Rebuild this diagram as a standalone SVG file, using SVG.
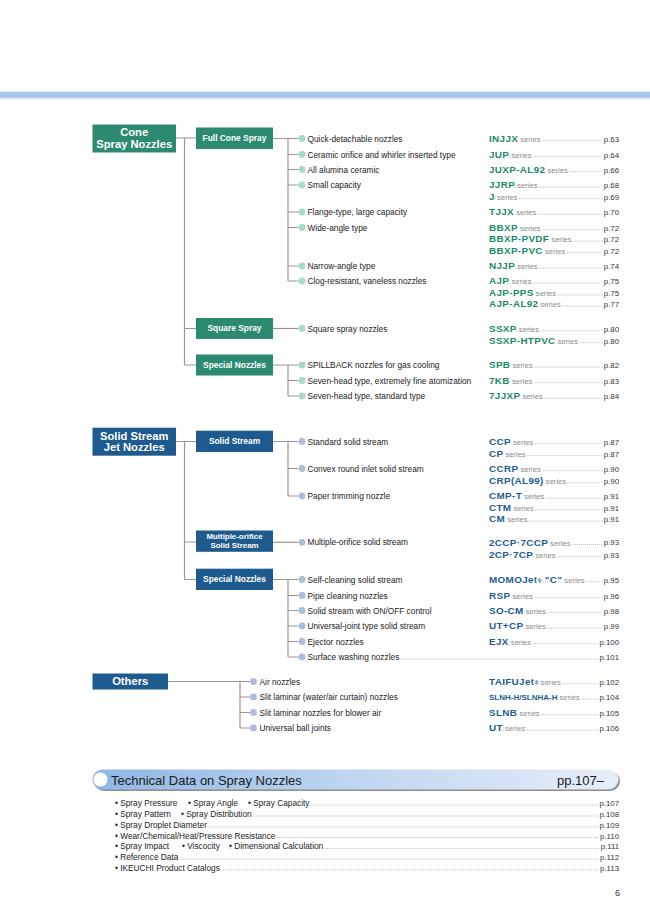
<svg xmlns="http://www.w3.org/2000/svg" width="650" height="919" viewBox="0 0 650 919">
<style>
text{font-family:"Liberation Sans",Arial,Helvetica,sans-serif}
.t{font-size:8.3px;fill:#222}
.bx{font-weight:bold;fill:#fff;text-anchor:middle}
.gb{fill:#2b8a70}
.bb{fill:#1d5a8e}
.cg{font-weight:bold;font-size:9.9px;fill:#1b8a6b;letter-spacing:0.35px}
.cb{font-weight:bold;font-size:9.9px;fill:#1d5c94;letter-spacing:0.35px}
.cb.sm{font-size:8px;letter-spacing:0}
.cb.reg{font-size:5.5px;letter-spacing:0}
.s{font-size:7.6px;fill:#8a8a8a;font-weight:normal;letter-spacing:0}
.pg{font-size:7.8px;fill:#333;text-anchor:end}
.w{stroke:#fff;stroke-width:3px;paint-order:stroke fill;stroke-linejoin:round}
.ld{stroke:#9a9a9a;stroke-width:0.8;stroke-dasharray:0.8 1.2;fill:none}
.cn{stroke:#a0958c;stroke-width:1.2;fill:none}
.dg{fill:#a6dac8}
.db{fill:#aabfd6}
</style>
<defs>
<linearGradient id="barg" x1="0" y1="0" x2="1" y2="0">
<stop offset="0" stop-color="#8fb6e4"/>
<stop offset="0.45" stop-color="#bcd3ef"/>
<stop offset="1" stop-color="#e6eef9"/>
</linearGradient>
</defs>
<rect x="0" y="0" width="650" height="919" fill="#fff"/>
<g id="top-band">
<rect x="0" y="91.5" width="650" height="7" fill="#b6d1f0"/>
<rect x="0" y="93.2" width="650" height="3.6" fill="#a5c4ea"/>
<rect x="0" y="99.5" width="650" height="1" fill="#eaf1f9"/>
</g>
<g id="leaders">
<path class="ld" d="M489 140.7H619M489 156.7H619M489 171.7H619M489 187.2H619M489 198.7H619M489 214.2H619M489 229.7H619M489 241.2H619M489 252.7H619M489 268.2H619M489 283.2H619M489 294.9H619M489 306.2H619M489 330.7H619M489 342.7H619M489 367.2H619M489 382.7H619M489 398.2H619"/>
<path class="ld" d="M489 443.7H619M489 455.7H619M489 470.7H619M489 482.7H619M489 498.2H619M489 509.7H619M489 521.2H619M489 544.5H619M489 556.7H619M489 581.7H619M489 597.7H619M489 612.7H619M489 628.2H619M489 643.7H619M309 659.2H619"/>
<path class="ld" d="M489 683.7H619M489 699.2H619M489 714.7H619M489 730.2H619"/>
<path class="ld" d="M248 805.2H619M181 816H619M115 826.8H619M115 837.6H619M229 848.4H619M115 859.2H619M115 870H619"/>
</g>
<g id="connectors">
<path class="cn" d="M176 138H196M184.5 138V365M184.5 328.5H196M184.5 365H196"/>
<path class="cn" d="M273 138.5H288V281M288 138.5H298.5M288 154.5H298.5M288 169.5H298.5M288 185H298.5M288 212H298.5M288 227.5H298.5M288 266H298.5M288 281H298.5"/>
<path class="cn" d="M273 328.5H298.5"/>
<path class="cn" d="M273 365H288V396M288 365H298.5M288 380.5H298.5M288 396H298.5"/>
<path class="cn" d="M176 441.5H196M184.5 441.5V579.5M184.5 542H196M184.5 579.5H196"/>
<path class="cn" d="M273 441.5H288V496M288 441.5H298.5M288 468.5H298.5M288 496H298.5"/>
<path class="cn" d="M273 542.3H298.5"/>
<path class="cn" d="M273 579.5H288V657M288 579.5H298.5M288 595.5H298.5M288 610.5H298.5M288 626H298.5M288 641.5H298.5M288 657H298.5"/>
<path class="cn" d="M168 681.5H250M240 681.5V728M240 697H250M240 712.5H250M240 728H250"/>
</g>
<g id="node-cone">
<rect class="gb" x="92.5" y="124.5" width="83.5" height="28"/>
<text class="bx" x="134.2" y="136.3" font-size="11.2px">Cone</text>
<text class="bx" x="134.2" y="147.6" font-size="11.2px">Spray Nozzles</text>
</g>
<g id="node-fullcone">
<rect class="gb" x="196" y="127.5" width="77" height="21.5"/>
<text class="bx" x="234.5" y="141" font-size="8.4px">Full Cone Spray</text>
</g>
<g id="node-square">
<rect class="gb" x="196" y="318" width="77" height="21"/>
<text class="bx" x="234.5" y="331.4" font-size="8.4px">Square Spray</text>
</g>
<g id="node-special1">
<rect class="gb" x="196" y="354.5" width="77" height="21"/>
<text class="bx" x="234.5" y="367.9" font-size="8.4px">Special Nozzles</text>
</g>
<g id="node-solidjet">
<rect class="bb" x="92.5" y="427.7" width="83.5" height="28"/>
<text class="bx" x="134.2" y="440" font-size="11.2px">Solid Stream</text>
<text class="bx" x="134.2" y="451.2" font-size="11.2px">Jet Nozzles</text>
</g>
<g id="node-solid">
<rect class="bb" x="196" y="430.7" width="77" height="21.3"/>
<text class="bx" x="234.5" y="444.3" font-size="8.4px">Solid Stream</text>
</g>
<g id="node-multi">
<rect class="bb" x="196" y="530.5" width="77" height="21.3"/>
<text class="bx" x="234.5" y="539.3" font-size="7.9px">Multiple-orifice</text>
<text class="bx" x="234.5" y="547.6" font-size="7.9px">Solid Stream</text>
</g>
<g id="node-special2">
<rect class="bb" x="196" y="568.7" width="77" height="21.3"/>
<text class="bx" x="234.5" y="582.4" font-size="8.4px">Special Nozzles</text>
</g>
<g id="node-others">
<rect class="bb" x="92.5" y="673.5" width="75.5" height="16"/>
<text class="bx" x="130.2" y="685.4" font-size="11.2px">Others</text>
</g>
<g id="cone-items">
<g id="i-quick"><circle class="dg" cx="302" cy="138.5" r="3.4"/><text class="t" x="307.5" y="141.5">Quick-detachable nozzles</text>
<text class="t w" x="489" y="141.8"><tspan class="cg">INJJX</tspan><tspan class="s"> series</tspan></text><text class="pg w" x="619" y="141.5">p.63</text></g>
<g id="i-ceramic"><circle class="dg" cx="302" cy="154.5" r="3.4"/><text class="t" x="307.5" y="157.5">Ceramic orifice and whirler inserted type</text>
<text class="t w" x="489" y="157.8"><tspan class="cg">JUP</tspan><tspan class="s"> series</tspan></text><text class="pg w" x="619" y="157.5">p.64</text></g>
<g id="i-alumina"><circle class="dg" cx="302" cy="169.5" r="3.4"/><text class="t" x="307.5" y="172.5">All alumina ceramic</text>
<text class="t w" x="489" y="172.8"><tspan class="cg">JUXP-AL92</tspan><tspan class="s"> series</tspan></text><text class="pg w" x="619" y="172.5">p.66</text></g>
<g id="i-small"><circle class="dg" cx="302" cy="185" r="3.4"/><text class="t" x="307.5" y="188">Small capacity</text>
<text class="t w" x="489" y="188.3"><tspan class="cg">JJRP</tspan><tspan class="s"> series</tspan></text><text class="pg w" x="619" y="188">p.68</text>
<text class="t w" x="489" y="199.8"><tspan class="cg">J</tspan><tspan class="s"> series</tspan></text><text class="pg w" x="619" y="199.5">p.69</text></g>
<g id="i-flange"><circle class="dg" cx="302" cy="212" r="3.4"/><text class="t" x="307.5" y="215">Flange-type, large capacity</text>
<text class="t w" x="489" y="215.3"><tspan class="cg">TJJX</tspan><tspan class="s"> series</tspan></text><text class="pg w" x="619" y="215">p.70</text></g>
<g id="i-wide"><circle class="dg" cx="302" cy="227.5" r="3.4"/><text class="t" x="307.5" y="230.5">Wide-angle type</text>
<text class="t w" x="489" y="230.8"><tspan class="cg">BBXP</tspan><tspan class="s"> series</tspan></text><text class="pg w" x="619" y="230.5">p.72</text>
<text class="t w" x="489" y="242.3"><tspan class="cg">BBXP-PVDF</tspan><tspan class="s"> series</tspan></text><text class="pg w" x="619" y="242">p.72</text>
<text class="t w" x="489" y="253.8"><tspan class="cg">BBXP-PVC</tspan><tspan class="s"> series</tspan></text><text class="pg w" x="619" y="253.5">p.72</text></g>
<g id="i-narrow"><circle class="dg" cx="302" cy="266" r="3.4"/><text class="t" x="307.5" y="269">Narrow-angle type</text>
<text class="t w" x="489" y="269.3"><tspan class="cg">NJJP</tspan><tspan class="s"> series</tspan></text><text class="pg w" x="619" y="269">p.74</text></g>
<g id="i-clog"><circle class="dg" cx="302" cy="281" r="3.4"/><text class="t" x="307.5" y="284">Clog-resistant, vaneless nozzles</text>
<text class="t w" x="489" y="284.3"><tspan class="cg">AJP</tspan><tspan class="s"> series</tspan></text><text class="pg w" x="619" y="284">p.75</text>
<text class="t w" x="489" y="296"><tspan class="cg">AJP-PPS</tspan><tspan class="s"> series</tspan></text><text class="pg w" x="619" y="295.7">p.75</text>
<text class="t w" x="489" y="307.3"><tspan class="cg">AJP-AL92</tspan><tspan class="s"> series</tspan></text><text class="pg w" x="619" y="307">p.77</text></g>
<g id="i-square"><circle class="dg" cx="302" cy="328.5" r="3.4"/><text class="t" x="307.5" y="331.5">Square spray nozzles</text>
<text class="t w" x="489" y="331.8"><tspan class="cg">SSXP</tspan><tspan class="s"> series</tspan></text><text class="pg w" x="619" y="331.5">p.80</text>
<text class="t w" x="489" y="343.8"><tspan class="cg">SSXP-HTPVC</tspan><tspan class="s"> series</tspan></text><text class="pg w" x="619" y="343.5">p.80</text></g>
<g id="i-spillback"><circle class="dg" cx="302" cy="365" r="3.4"/><text class="t" x="307.5" y="368">SPILLBACK nozzles for gas cooling</text>
<text class="t w" x="489" y="368.3"><tspan class="cg">SPB</tspan><tspan class="s"> series</tspan></text><text class="pg w" x="619" y="368">p.82</text></g>
<g id="i-sevenfine"><circle class="dg" cx="302" cy="380.5" r="3.4"/><text class="t" x="307.5" y="383.5">Seven-head type, extremely fine atomization</text>
<text class="t w" x="489" y="383.8"><tspan class="cg">7KB</tspan><tspan class="s"> series</tspan></text><text class="pg w" x="619" y="383.5">p.83</text></g>
<g id="i-sevenstd"><circle class="dg" cx="302" cy="396" r="3.4"/><text class="t" x="307.5" y="399">Seven-head type, standard type</text>
<text class="t w" x="489" y="399.3"><tspan class="cg">7JJXP</tspan><tspan class="s"> series</tspan></text><text class="pg w" x="619" y="399">p.84</text></g>
</g>
<g id="solid-items">
<g id="i-standard"><circle class="db" cx="302" cy="441.5" r="3.4"/><text class="t" x="307.5" y="444.5">Standard solid stream</text>
<text class="t w" x="489" y="444.8"><tspan class="cb">CCP</tspan><tspan class="s"> series</tspan></text><text class="pg w" x="619" y="444.5">p.87</text>
<text class="t w" x="489" y="456.8"><tspan class="cb">CP</tspan><tspan class="s"> series</tspan></text><text class="pg w" x="619" y="456.5">p.87</text></g>
<g id="i-convex"><circle class="db" cx="302" cy="468.5" r="3.4"/><text class="t" x="307.5" y="471.5">Convex round inlet solid stream</text>
<text class="t w" x="489" y="471.8"><tspan class="cb">CCRP</tspan><tspan class="s"> series</tspan></text><text class="pg w" x="619" y="471.5">p.90</text>
<text class="t w" x="489" y="483.8"><tspan class="cb">CRP(AL99)</tspan><tspan class="s"> series</tspan></text><text class="pg w" x="619" y="483.5">p.90</text></g>
<g id="i-paper"><circle class="db" cx="302" cy="496" r="3.4"/><text class="t" x="307.5" y="499">Paper trimming nozzle</text>
<text class="t w" x="489" y="499.3"><tspan class="cb">CMP-T</tspan><tspan class="s"> series</tspan></text><text class="pg w" x="619" y="499">p.91</text>
<text class="t w" x="489" y="510.8"><tspan class="cb">CTM</tspan><tspan class="s"> series</tspan></text><text class="pg w" x="619" y="510.5">p.91</text>
<text class="t w" x="489" y="522.3"><tspan class="cb">CM</tspan><tspan class="s"> series</tspan></text><text class="pg w" x="619" y="522">p.91</text></g>
<g id="i-multi"><circle class="db" cx="302" cy="542.3" r="3.4"/><text class="t" x="307.5" y="545.3">Multiple-orifice solid stream</text>
<text class="t w" x="489" y="545.6"><tspan class="cb">2CCP·7CCP</tspan><tspan class="s"> series</tspan></text><text class="pg w" x="619" y="545.3">p.93</text>
<text class="t w" x="489" y="557.8"><tspan class="cb">2CP·7CP</tspan><tspan class="s"> series</tspan></text><text class="pg w" x="619" y="557.5">p.93</text></g>
<g id="i-selfclean"><circle class="db" cx="302" cy="579.5" r="3.4"/><text class="t" x="307.5" y="582.5">Self-cleaning solid stream</text>
<text class="t w" x="489" y="582.8"><tspan class="cb">MOMOJet</tspan><tspan class="cb reg">®</tspan><tspan class="cb"> "C"</tspan><tspan class="s"> series</tspan></text><text class="pg w" x="619" y="582.5">p.95</text></g>
<g id="i-pipe"><circle class="db" cx="302" cy="595.5" r="3.4"/><text class="t" x="307.5" y="598.5">Pipe cleaning nozzles</text>
<text class="t w" x="489" y="598.8"><tspan class="cb">RSP</tspan><tspan class="s"> series</tspan></text><text class="pg w" x="619" y="598.5">p.96</text></g>
<g id="i-onoff"><circle class="db" cx="302" cy="610.5" r="3.4"/><text class="t" x="307.5" y="613.5">Solid stream with ON/OFF control</text>
<text class="t w" x="489" y="613.8"><tspan class="cb">SO-CM</tspan><tspan class="s"> series</tspan></text><text class="pg w" x="619" y="613.5">p.98</text></g>
<g id="i-universal"><circle class="db" cx="302" cy="626" r="3.4"/><text class="t" x="307.5" y="629">Universal-joint type solid stream</text>
<text class="t w" x="489" y="629.3"><tspan class="cb">UT+CP</tspan><tspan class="s"> series</tspan></text><text class="pg w" x="619" y="629">p.99</text></g>
<g id="i-ejector"><circle class="db" cx="302" cy="641.5" r="3.4"/><text class="t" x="307.5" y="644.5">Ejector nozzles</text>
<text class="t w" x="489" y="644.8"><tspan class="cb">EJX</tspan><tspan class="s"> series</tspan></text><text class="pg w" x="619" y="644.5">p.100</text></g>
<g id="i-surface"><circle class="db" cx="302" cy="657" r="3.4"/><text class="t w" x="307.5" y="660">Surface washing nozzles</text><text class="pg w" x="619" y="660">p.101</text></g>
</g>
<g id="others-items">
<g id="i-air"><circle class="db" cx="253.5" cy="681.5" r="3.4"/><text class="t" x="259.5" y="684.5">Air nozzles</text>
<text class="t w" x="489" y="684.8"><tspan class="cb">TAIFUJet</tspan><tspan class="cb reg">®</tspan><tspan class="s"> series</tspan></text><text class="pg w" x="619" y="684.5">p.102</text></g>
<g id="i-slit"><circle class="db" cx="253.5" cy="697" r="3.4"/><text class="t" x="259.5" y="700">Slit laminar (water/air curtain) nozzles</text>
<text class="t w" x="489" y="700.1"><tspan class="cb sm">SLNH-H/SLNHA-H</tspan><tspan class="s"> series</tspan></text><text class="pg w" x="619" y="700">p.104</text></g>
<g id="i-blower"><circle class="db" cx="253.5" cy="712.5" r="3.4"/><text class="t" x="259.5" y="715.5">Slit laminar nozzles for blower air</text>
<text class="t w" x="489" y="715.8"><tspan class="cb">SLNB</tspan><tspan class="s"> series</tspan></text><text class="pg w" x="619" y="715.5">p.105</text></g>
<g id="i-ball"><circle class="db" cx="253.5" cy="728" r="3.4"/><text class="t" x="259.5" y="731">Universal ball joints</text>
<text class="t w" x="489" y="731.3"><tspan class="cb">UT</tspan><tspan class="s"> series</tspan></text><text class="pg w" x="619" y="731">p.106</text></g>
</g>
<g id="tech-bar">
<rect x="94" y="771" width="526" height="20" rx="10" fill="#8d8d8d"/>
<rect x="92.5" y="769.5" width="526" height="20" rx="10" fill="url(#barg)"/>
<circle cx="100.5" cy="779.5" r="7" fill="#fff"/>
<text x="111" y="784.6" font-size="13px" fill="#1a1a1a">Technical Data on Spray Nozzles</text>
<text x="604" y="784.6" font-size="13px" fill="#1a1a1a" text-anchor="end">pp.107–</text>
</g>
<g id="tech-list">
<text class="t w" y="806.2"><tspan x="115">• Spray Pressure</tspan><tspan x="188">• Spray Angle</tspan><tspan x="248">• Spray Capacity</tspan></text><text class="pg w" x="619" y="806.2">p.107</text>
<text class="t w" y="817"><tspan x="115">• Spray Pattern</tspan><tspan x="181">• Spray Distribution</tspan></text><text class="pg w" x="619" y="817">p.108</text>
<text class="t w" x="115" y="827.8">• Spray Droplet Diameter</text><text class="pg w" x="619" y="827.8">p.109</text>
<text class="t w" x="115" y="838.6">• Wear/Chemical/Heat/Pressure Resistance</text><text class="pg w" x="619" y="838.6">p.110</text>
<text class="t w" y="849.4"><tspan x="115">• Spray Impact</tspan><tspan x="182">• Viscocity</tspan><tspan x="229">• Dimensional Calculation</tspan></text><text class="pg w" x="619" y="849.4">p.111</text>
<text class="t w" x="115" y="860.2">• Reference Data</text><text class="pg w" x="619" y="860.2">p.112</text>
<text class="t w" x="115" y="871">• IKEUCHI Product Catalogs</text><text class="pg w" x="619" y="871">p.113</text>
</g>
<text x="620" y="896" font-size="9px" fill="#333" text-anchor="end">6</text>
</svg>
